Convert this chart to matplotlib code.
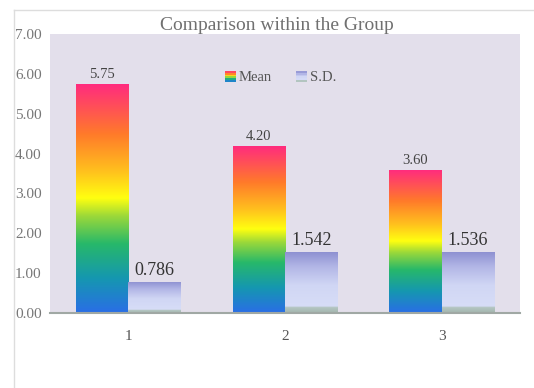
import numpy as np
import matplotlib
matplotlib.use("Agg")
import matplotlib.pyplot as plt
from matplotlib.colors import LinearSegmentedColormap
from matplotlib.patches import Rectangle
from matplotlib.legend_handler import HandlerBase

categories = ["1", "2", "3"]
mean_vals = [5.75, 4.20, 3.60]
sd_vals = [0.786, 1.542, 1.536]
mean_labels = ["5.75", "4.20", "3.60"]
sd_labels = ["0.786", "1.542", "1.536"]
yticks = [0, 1, 2, 3, 4, 5, 6, 7]
title = "Comparison within the Group"

serif = ["Liberation Serif", "DejaVu Serif"]

mean_cmap = LinearSegmentedColormap.from_list("mean", [
    (0.0, "#2a6ee6"), (0.15, "#1597b0"), (0.30, "#27b86a"), (0.42, "#9ad83a"),
    (0.50, "#ffff10"), (0.62, "#ffbf1e"), (0.78, "#ff7a2a"), (1.0, "#ff2a80")])
sd_cmap = LinearSegmentedColormap.from_list("sd", [
    (0.0, "#a4b6ae"), (0.09, "#b4c6c2"), (0.11, "#d7ddf7"), (0.45, "#d0d6f4"),
    (0.75, "#b2b6e6"), (1.0, "#8b8ed0")])

fig = plt.figure(figsize=(5.34, 3.88), dpi=100)
fig.patch.set_facecolor("white")
# outer chart frame lines
fig.add_artist(plt.Line2D([14/534, 14/534], [0, 1 - 10/388], transform=fig.transFigure, color="#dddddd", lw=1))
fig.add_artist(plt.Line2D([14/534, 1], [1 - 10/388, 1 - 10/388], transform=fig.transFigure, color="#dddddd", lw=1))

ax = fig.add_axes([50/534, 75/388, 470/534, 279/388])
ax.set_facecolor("#e3dfeb")
x = np.arange(len(categories))
w = 0.335

grad = np.linspace(0, 1, 256).reshape(-1, 1)

mbars = ax.bar(x - w/2, mean_vals, w, facecolor="none", edgecolor="none", zorder=2)
sbars = ax.bar(x + w/2, sd_vals, w, facecolor="none", edgecolor="none", zorder=2)
for bars, cmap in ((mbars, mean_cmap), (sbars, sd_cmap)):
    for b in bars:
        x0, y0, bw, bh = b.get_x(), b.get_y(), b.get_width(), b.get_height()
        im = ax.imshow(grad, cmap=cmap, origin="lower", aspect="auto",
                       extent=[x0, x0 + bw, y0, y0 + bh], zorder=2)
        im.set_clip_path(b)

for i in range(len(categories)):
    ax.text(x[i] - w/2, mean_vals[i] + 0.07, mean_labels[i], ha="center", va="bottom",
            fontsize=10.5, color="#444444", family=serif)
    ax.text(x[i] + w/2, sd_vals[i] + 0.07, sd_labels[i], ha="center", va="bottom",
            fontsize=13, color="#333333", family=serif)

ax.set_xlim(-0.5, 2.5)
ax.set_ylim(0, 7)
ax.set_yticks(yticks)
ax.set_yticklabels([f"{v:.2f}" for v in yticks], family=serif, fontsize=11, color="#777777")
ax.set_xticks(x)
ax.set_xticklabels(categories, family=serif, fontsize=11, color="#555555")
ax.tick_params(axis="both", length=0)
ax.tick_params(axis="y", pad=6)
ax.tick_params(axis="x", pad=12)
for s in ["top", "right", "left"]:
    ax.spines[s].set_visible(False)
ax.spines["bottom"].set_color("#a0a8a4")
ax.spines["bottom"].set_linewidth(1.5)


class GradHandler(HandlerBase):
    def __init__(self, cmap, n=6):
        super().__init__()
        self.cmap = cmap
        self.n = n

    def create_artists(self, legend, orig_handle, xdescent, ydescent, width, height, fontsize, trans):
        arts = []
        h = height / self.n
        sz = min(width, height)
        for k in range(self.n):
            c = self.cmap((k + 0.5) / self.n)
            arts.append(Rectangle((width - sz - xdescent, -ydescent + k * h), sz, h,
                                  facecolor=c, edgecolor="none", transform=trans))
        return arts


h1 = Rectangle((0, 0), 1, 1)
h2 = Rectangle((0, 0), 1, 1)
leg = ax.legend([h1, h2], ["Mean", "S.D."],
                handler_map={h1: GradHandler(mean_cmap), h2: GradHandler(sd_cmap)},
                loc="upper center", bbox_to_anchor=(0.49, 0.915), ncol=2, frameon=False,
                prop={"family": serif, "size": 10.5}, handlelength=0.8, handleheight=0.8,
                handletextpad=0.2, columnspacing=1.6)
for t in leg.get_texts():
    t.set_color("#555555")

fig.text(277/534, 1 - 25/388, title, ha="center", va="center", family=serif,
         fontsize=14, color="#707070")

fig.savefig("out.png", dpi=100)
